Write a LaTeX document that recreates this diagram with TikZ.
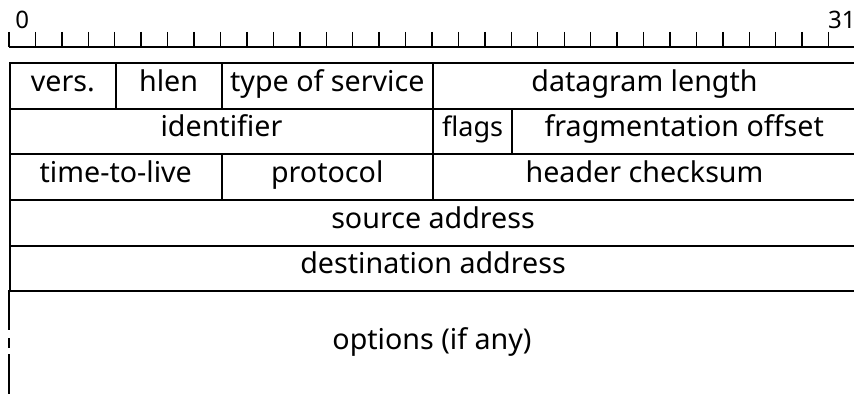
\documentclass[tikz,border=0pt]{standalone}
\usepackage{fontspec}
\setmainfont{Noto Sans}
\usetikzlibrary{positioning}

\begin{document}
\begin{tikzpicture}[
    x=13.2pt, y=-22.8pt,
    field/.style={draw, line width=1pt, anchor=north west, inner sep=0pt, minimum height=22.8pt,
        text height=0.75em, text depth=0.22em, font=\fontsize{14.3}{16}\selectfont},
    tick/.style={line width=0.7pt},
    bitlabel/.style={font=\fontsize{12}{14}\selectfont, inner sep=0pt}
]
    \useasboundingbox (-0.34,-1.36) rectangle (31.96,7.26);

    % Ruler
    \draw[tick] (0,-0.33) -- (32.5,-0.33);
    \foreach \i in {0,...,31}
        \draw[tick] (\i,-0.66) -- (\i,-0.33);
    \node[bitlabel] (b0) at (0.5,-0.92) {0};
    \node[bitlabel] (b31) at (31.5,-0.92) {31};

    % Header fields: first bit / last bit / row / text
    \foreach \a/\b/\r/\t/\n in {
        0/4/0/vers./vers, 4/8/0/hlen/hlen, 8/16/0/type of service/tos, 16/32/0/datagram length/len,
        0/16/1/identifier/id, 16/19/1/{\fontsize{13.5}{16}\selectfont flags}/flags, 19/32/1/fragmentation offset/frag,
        0/8/2/time-to-live/ttl, 8/16/2/protocol/proto, 16/32/2/header checksum/csum,
        0/32/3/source address/src,
        0/32/4/destination address/dst}
        \node[field, minimum width={(\b-\a)*13.2pt}] (\n) at (\a,\r) {\t};

    % Options
    \node[inner sep=0pt, font=\fontsize{14.3}{16}\selectfont] (opt) at (16,6.12) {options (if any)};
    \draw[line width=1pt] (0,5) -- (0,5.877);
    \draw[line width=1pt] (0,6.05) -- (0,6.27);
    \draw[line width=1pt] (0,6.40) -- (0,7.3);
\end{tikzpicture}
\end{document}
